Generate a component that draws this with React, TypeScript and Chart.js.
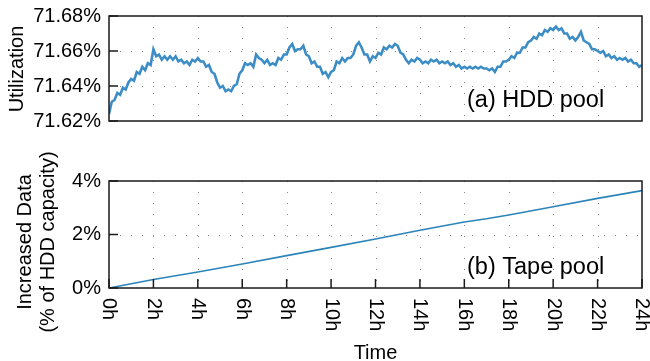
import React, { useEffect, useRef } from 'react';
import { Chart, registerables } from 'chart.js';

Chart.register(...registerables);

const FONT = '"Liberation Sans", Arial, Helvetica, sans-serif';

// ---- axis ticks ----
const hourTicks = [0, 2, 4, 6, 8, 10, 12, 14, 16, 18, 20, 22, 24];
const hourTickLabels = ['0h', '2h', '4h', '6h', '8h', '10h', '12h', '14h', '16h', '18h', '20h', '22h', '24h'];
const utilTicks = [71.62, 71.64, 71.66, 71.68];
const utilTickLabels = ['71.62%', '71.64%', '71.66%', '71.68%'];
const tapeTicks = [0, 2, 4];
const tapeTickLabels = ['0%', '2%', '4%'];

// ---- (a) HDD pool utilization (%), sampled every 1/8 hour ----
const sampleStepHours = 0.125;
const utilization = [
  71.624, 71.631, 71.632, 71.636, 71.635, 71.639, 71.638, 71.642,
  71.644, 71.643, 71.648, 71.647, 71.651, 71.649, 71.653, 71.652,
  71.661, 71.657, 71.658, 71.655, 71.657, 71.655, 71.657, 71.655,
  71.657, 71.654, 71.655, 71.653, 71.654, 71.652, 71.655, 71.654,
  71.656, 71.654, 71.654, 71.651, 71.652, 71.648, 71.647, 71.642,
  71.639, 71.640, 71.637, 71.638, 71.637, 71.640, 71.641, 71.647,
  71.649, 71.653, 71.652, 71.653, 71.651, 71.658, 71.656, 71.655,
  71.653, 71.655, 71.652, 71.653, 71.652, 71.656, 71.655, 71.658,
  71.658, 71.662, 71.664, 71.660, 71.661, 71.661, 71.663, 71.658,
  71.657, 71.653, 71.654, 71.651, 71.651, 71.647, 71.648, 71.645,
  71.648, 71.649, 71.654, 71.653, 71.656, 71.654, 71.656, 71.656,
  71.658, 71.663, 71.665, 71.662, 71.658, 71.658, 71.654, 71.657,
  71.656, 71.659, 71.658, 71.662, 71.661, 71.663, 71.662, 71.664,
  71.663, 71.659, 71.658, 71.655, 71.653, 71.655, 71.654, 71.656,
  71.655, 71.653, 71.654, 71.653, 71.655, 71.654, 71.655, 71.653,
  71.654, 71.653, 71.654, 71.652, 71.653, 71.651, 71.652, 71.650,
  71.651, 71.650, 71.651, 71.650, 71.651, 71.650, 71.651, 71.650,
  71.650, 71.649, 71.650, 71.648, 71.651, 71.651, 71.654, 71.654,
  71.655, 71.657, 71.656, 71.659, 71.659, 71.662, 71.662, 71.665,
  71.666, 71.668, 71.667, 71.670, 71.669, 71.672, 71.671, 71.673,
  71.672, 71.674, 71.672, 71.673, 71.670, 71.670, 71.667, 71.668,
  71.666, 71.668, 71.671, 71.666, 71.665, 71.664, 71.661, 71.661,
  71.660, 71.659, 71.660, 71.657, 71.658, 71.656, 71.657, 71.655,
  71.656, 71.655, 71.656, 71.654, 71.655, 71.653, 71.653, 71.651,
  71.652,
];

// ---- (b) Tape pool increased data (% of HDD capacity) ----
const tapeHours = [0, 2, 4, 6, 8, 10, 12, 14, 16, 17, 18, 20, 22, 24];
const tapeIncrease = [0, 0.32, 0.6, 0.9, 1.21, 1.52, 1.83, 2.16, 2.47, 2.59, 2.73, 3.04, 3.35, 3.64];

const GRID_COLOR = '#8a8a8a';
const FRAME_COLOR = '#1a1a1a';

function dotted(ctx: CanvasRenderingContext2D, x1: number, y1: number, x2: number, y2: number) {
  ctx.save();
  ctx.strokeStyle = GRID_COLOR;
  ctx.lineWidth = 1;
  ctx.setLineDash([1, 10]);
  ctx.beginPath();
  ctx.moveTo(x1, y1);
  ctx.lineTo(x2, y2);
  ctx.stroke();
  ctx.restore();
}

type FrameCfg = {
  yTicks: number[];
  yTickLabels: string[];
  xTickMarks: boolean;
  xLabels: boolean;
  yTitle: string[];
  yTitleX: number[];
  yTitleY: number;
  panelText: string;
  panelBaseline: number;
  xTitle?: string;
  xTitleBaseline?: number;
  xLabelTop?: number;
};

function framePlugin(cfg: FrameCfg) {
  return {
    id: 'frame',
    beforeDatasetsDraw(chart: any) {
      const { ctx, chartArea, scales } = chart;
      const { left, right, top, bottom } = chartArea;
      hourTicks.forEach((h) => {
        if (h === 0 || h === 24) return;
        const X = Math.round(scales.x.getPixelForValue(h)) + 0.5;
        dotted(ctx, X, top, X, bottom);
      });
      cfg.yTicks.forEach((v) => {
        const Y = Math.round(scales.y.getPixelForValue(v)) + 0.5;
        if (Math.abs(Y - top) < 2 || Math.abs(Y - bottom) < 2) return;
        dotted(ctx, left, Y, right, Y);
      });
    },
    afterDatasetsDraw(chart: any) {
      const { ctx, chartArea, scales } = chart;
      const { left, right, top, bottom } = chartArea;
      ctx.save();
      ctx.strokeStyle = FRAME_COLOR;
      ctx.lineWidth = 1.5;
      ctx.setLineDash([]);
      ctx.strokeRect(left, top, right - left, bottom - top);
      ctx.fillStyle = '#000';
      ctx.font = `20px ${FONT}`;
      ctx.textAlign = 'right';
      ctx.textBaseline = 'middle';
      cfg.yTicks.forEach((v, i) => {
        const Y = scales.y.getPixelForValue(v);
        ctx.beginPath();
        ctx.moveTo(left, Y);
        ctx.lineTo(left + 9, Y);
        ctx.stroke();
        ctx.fillText(cfg.yTickLabels[i], left - 8, Y);
      });
      if (cfg.xTickMarks) {
        hourTicks.forEach((h) => {
          const X = scales.x.getPixelForValue(h);
          ctx.beginPath();
          ctx.moveTo(X, bottom);
          ctx.lineTo(X, bottom - 9);
          ctx.stroke();
        });
      }
      if (cfg.xLabels) {
        hourTicks.forEach((h, i) => {
          const X = scales.x.getPixelForValue(h);
          ctx.save();
          ctx.translate(X, cfg.xLabelTop as number);
          ctx.rotate(Math.PI / 2);
          ctx.textAlign = 'left';
          ctx.textBaseline = 'middle';
          ctx.fillText(hourTickLabels[i], 0, 0);
          ctx.restore();
        });
      }
      cfg.yTitle.forEach((t, i) => {
        ctx.save();
        ctx.translate(cfg.yTitleX[i], cfg.yTitleY);
        ctx.rotate(-Math.PI / 2);
        ctx.textAlign = 'center';
        ctx.textBaseline = 'middle';
        ctx.fillText(t, 0, 0);
        ctx.restore();
      });
      if (cfg.xTitle) {
        ctx.textAlign = 'center';
        ctx.textBaseline = 'alphabetic';
        ctx.fillText(cfg.xTitle, (left + right) / 2, cfg.xTitleBaseline as number);
      }
      ctx.font = `23.5px ${FONT}`;
      ctx.textAlign = 'left';
      ctx.textBaseline = 'alphabetic';
      ctx.fillText(cfg.panelText, 467, cfg.panelBaseline);
      ctx.restore();
    },
  };
}

export default function App() {
  const topRef = useRef<HTMLCanvasElement>(null);
  const botRef = useRef<HTMLCanvasElement>(null);

  useEffect(() => {
    const common = {
      responsive: false,
      animation: false as const,
      devicePixelRatio: 1,
      events: [] as any[],
      plugins: { legend: { display: false }, tooltip: { enabled: false } },
    };

    const c1 = new Chart(topRef.current as HTMLCanvasElement, {
      type: 'line',
      data: {
        datasets: [
          {
            data: utilization.map((v, i) => ({ x: i * sampleStepHours, y: v })),
            borderColor: '#3c8dc6',
            borderWidth: 2.6,
            borderJoinStyle: 'miter',
            pointRadius: 0,
            fill: false,
            tension: 0,
          },
        ],
      },
      options: {
        ...common,
        layout: { padding: { left: 109, right: 8, top: 16, bottom: 14 } },
        scales: {
          x: { type: 'linear', min: 0, max: 24, display: false },
          y: { type: 'linear', min: 71.62, max: 71.68, display: false },
        },
      },
      plugins: [
        framePlugin({
          yTicks: utilTicks,
          yTickLabels: utilTickLabels,
          xTickMarks: false,
          xLabels: false,
          yTitle: ['Utilization'],
          yTitleX: [17],
          yTitleY: 69,
          panelText: '(a) HDD pool',
          panelBaseline: 106.5,
        }),
      ],
    } as any);

    const c2 = new Chart(botRef.current as HTMLCanvasElement, {
      type: 'line',
      data: {
        datasets: [
          {
            data: tapeHours.map((h, i) => ({ x: h, y: tapeIncrease[i] })),
            borderColor: '#2b84b9',
            borderWidth: 1.6,
            pointRadius: 0,
            fill: false,
            tension: 0,
          },
        ],
      },
      options: {
        ...common,
        layout: { padding: { left: 109, right: 8, top: 46, bottom: 73 } },
        scales: {
          x: { type: 'linear', min: 0, max: 24, display: false },
          y: { type: 'linear', min: 0, max: 4, display: false },
        },
      },
      plugins: [
        framePlugin({
          yTicks: tapeTicks,
          yTickLabels: tapeTickLabels,
          xTickMarks: true,
          xLabels: true,
          xLabelTop: 163,
          yTitle: ['Increased Data', '(% of HDD capacity)'],
          yTitleX: [25, 48],
          yTitleY: 107,
          panelText: '(b) Tape pool',
          panelBaseline: 138.5,
          xTitle: 'Time',
          xTitleBaseline: 224,
        }),
      ],
    } as any);

    return () => {
      c1.destroy();
      c2.destroy();
    };
  }, []);

  return (
    <div style={{ position: 'absolute', left: 0, top: 0, width: 650, height: 361, background: '#fff' }}>
      <canvas
        ref={topRef}
        width={650}
        height={135}
        style={{ position: 'absolute', left: 0, top: 0, width: 650, height: 135 }}
      />
      <canvas
        ref={botRef}
        width={650}
        height={226}
        style={{ position: 'absolute', left: 0, top: 135, width: 650, height: 226 }}
      />
    </div>
  );
}
